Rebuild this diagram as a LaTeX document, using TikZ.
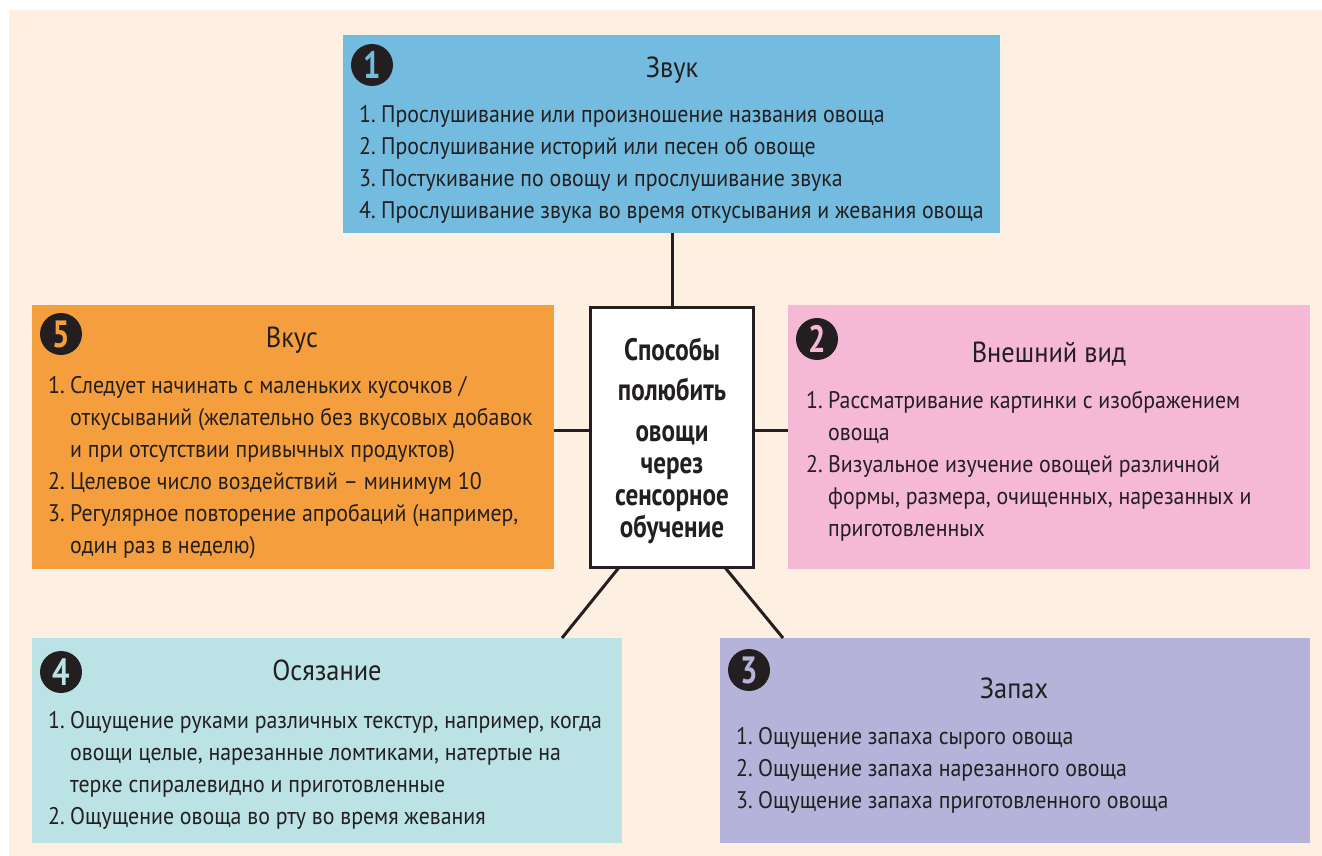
\documentclass[tikz,border=0pt]{standalone}
\usepackage{fontspec}
\setmainfont{PT Sans}[FakeStretch=0.91]
\newfontfamily\ctrfont{PT Sans}[FakeStretch=0.81]
\definecolor{beige}{HTML}{FDF0E2}
\definecolor{cblue}{HTML}{74BBE0}
\definecolor{corange}{HTML}{F59E3D}
\definecolor{cpink}{HTML}{F6B9D5}
\definecolor{ccyan}{HTML}{BBE3E6}
\definecolor{cviolet}{HTML}{B5B3D9}
\definecolor{dark}{HTML}{231F20}
\newcommand{\bodyfont}{\fontsize{24}{32}\selectfont}
\newcommand{\titlefont}{\fontsize{29}{32}\selectfont}
\newcommand{\num}[1]{\makebox[22pt][l]{#1}}
\tikzset{
  panel/.style={rectangle, inner sep=0pt, outer sep=0pt, anchor=north west},
  badge/.style={circle, fill=dark, minimum size=42pt, inner sep=0pt, font=\ctrfont\bfseries\fontsize{38}{38}\selectfont},
  ttl/.style={anchor=base, text=dark, font=\titlefont, inner sep=0pt},
  body/.style={anchor=base west, text=dark, font=\bodyfont, inner sep=0pt},
  conn/.style={draw=dark, line width=3pt},
}
\begin{document}
\begin{tikzpicture}[x=1pt,y=-1pt]
\useasboundingbox (0,0) rectangle (1322,856);
\fill[white] (0,0) rectangle (1322,856);
\fill[beige] (9,10) rectangle (1322,856);

% panels
\node[panel, fill=cblue, minimum width=657pt, minimum height=198pt] (zvuk) at (343,35) {};
\node[panel, fill=corange, minimum width=522pt, minimum height=264pt] (vkus) at (32,305) {};
\node[panel, fill=cpink, minimum width=522pt, minimum height=264pt] (vid) at (788,305) {};
\node[panel, fill=ccyan, minimum width=590pt, minimum height=205pt] (osyaz) at (32,638) {};
\node[panel, fill=cviolet, minimum width=590pt, minimum height=205pt] (zapakh) at (720,638) {};
\node[rectangle, draw=dark, line width=3pt, fill=white, inner sep=0pt, outer sep=0pt,
      minimum width=163pt, minimum height=260pt] (center) at (672,437.5) {};

% connectors
\draw[conn] (center.north) -- (zvuk.south -| center.north);
\draw[conn] (vkus.east |- 0,430) -- (center.west |- 0,430);
\draw[conn] (center.east |- 0,430) -- (vid.west |- 0,430);
\draw[conn] (center.south -| 619,0) -- (osyaz.north -| 562,0);
\draw[conn] (center.south -| 725,0) -- (zapakh.north -| 783,0);

% center text
\node[anchor=base, text=dark, inner sep=0pt, font=\ctrfont\bfseries\fontsize{31}{32}\selectfont] (ctext) at (672,360)
  {\begin{tabular}[t]{@{}c@{}}Способы\\[8pt] полюбить\\[9pt] овощи\\ через\\ сенсорное\\ обучение\end{tabular}};

% badges
\node[badge, text=cblue] (b1) at (372,65) {1};
\node[badge, text=cpink] (b2) at (817,339) {2};
\node[badge, text=cviolet] (b3) at (749,670) {3};
\node[badge, text=ccyan] (b4) at (61,672) {4};
\node[badge, text=corange] (b5) at (61,334) {5};

% titles
\node[ttl] (t1) at (672,78) {Звук};
\node[ttl] (t5) at (292,347) {Вкус};
\node[ttl] (t2) at (1049,362) {Внешний вид};
\node[ttl] (t4) at (327,680) {Осязание};
\node[ttl] (t3) at (1014,698) {Запах};

% bodies
\node[body] (s1) at (359,123) {\begin{tabular}[t]{@{}l@{}}
\num{1.}Прослушивание или произношение названия овоща\\
\num{2.}Прослушивание историй или песен об овоще\\
\num{3.}Постукивание по овощу и прослушивание звука\\
\num{4.}Прослушивание звука во время откусывания и жевания овоща
\end{tabular}};

\node[body] (s5) at (48,393) {\begin{tabular}[t]{@{}l@{}}
\num{1.}Следует начинать с маленьких кусочков /\\
\num{}откусываний (желательно без вкусовых добавок\\
\num{}и при отсутствии привычных продуктов)\\
\num{2.}Целевое число воздействий -- минимум 10\\
\num{3.}Регулярное повторение апробаций (например,\\
\num{}один раз в неделю)
\end{tabular}};

\node[body] (s2) at (806,408) {\begin{tabular}[t]{@{}l@{}}
\num{1.}Рассматривание картинки с изображением\\
\num{}овоща\\
\num{2.}Визуальное изучение овощей различной\\
\num{}формы, размера, очищенных, нарезанных и\\
\num{}приготовленных
\end{tabular}};

\node[body] (s4) at (48,728) {\begin{tabular}[t]{@{}l@{}}
\num{1.}Ощущение руками различных текстур, например, когда\\
\num{}овощи целые, нарезанные ломтиками, натертые на\\
\num{}терке спиралевидно и приготовленные\\
\num{2.}Ощущение овоща во рту во время жевания
\end{tabular}};

\node[body] (s3) at (736,744) {\begin{tabular}[t]{@{}l@{}}
\num{1.}Ощущение запаха сырого овоща\\
\num{2.}Ощущение запаха нарезанного овоща\\
\num{3.}Ощущение запаха приготовленного овоща
\end{tabular}};
\end{tikzpicture}
\end{document}
